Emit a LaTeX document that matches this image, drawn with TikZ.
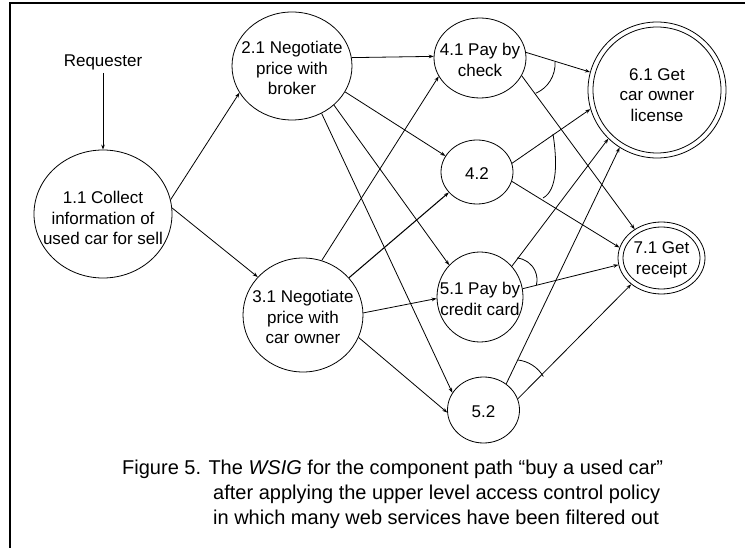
\documentclass[tikz,border=0pt]{standalone}
\usepackage{fontspec}
\setmainfont{Liberation Sans}
\usetikzlibrary{shapes.geometric,arrows.meta}

\begin{document}
\begin{tikzpicture}[x=1pt,y=-1pt,
  proc/.style={ellipse,draw,line width=0.8pt,inner sep=0pt},
  txt/.style={font=\fontsize{17}{20.5}\selectfont,align=center,inner sep=0pt,yshift=-2pt},
  arr/.style={line width=0.8pt,-{Stealth[length=5pt,width=3.6pt]}},
  andarc/.style={line width=0.8pt},
  captxt/.style={font=\fontsize{20}{25}\selectfont,anchor=base west,inner sep=0pt}]
\useasboundingbox (0,0) rectangle (745,548);

% frame
\draw[line width=1.4pt] (10,548) -- (10,3) -- (745,3);

% requester
\node[txt,inner sep=3pt,yshift=2pt] (req) at (103,62) {Requester};

% processes
\node[proc,minimum width=138pt,minimum height=128pt,
  label={[txt,yshift=-2pt]center:{1.1 Collect\\information of\\used car for sell}}] (n11) at (103,214) {};
\node[proc,minimum width=120pt,minimum height=108pt,
  label={[txt]center:{2.1 Negotiate\\price with\\broker}}] (n21) at (292,66) {};
\node[proc,minimum width=120pt,minimum height=114pt,
  label={[txt]center:{3.1 Negotiate\\price with\\car owner}}] (n31) at (303,315) {};
\node[proc,minimum width=92pt,minimum height=80pt,
  label={[txt]center:{4.1 Pay by\\check}}] (n41) at (480,58) {};
\node[proc,minimum width=72pt,minimum height=64pt,
  label={[txt]center:{4.2}}] (n42) at (477,172) {};
\node[proc,minimum width=86pt,minimum height=90pt,
  label={[txt]center:{5.1 Pay by\\credit card}}] (n51) at (480,297) {};
\node[proc,minimum width=72pt,minimum height=66pt,
  label={[txt]center:{5.2}}] (n52) at (483.5,410) {};
\node[proc,minimum width=138pt,minimum height=136pt,
  label={[txt,yshift=-3pt]center:{6.1 Get\\car owner\\license}}] (n61) at (657,90) {};
\node[proc,minimum width=87pt,minimum height=72pt,
  label={[txt]center:{7.1 Get\\receipt}}] (n71) at (661.5,258) {};

% inner rings of the goal nodes
\draw[line width=0.8pt] (n61.center) ellipse [x radius=64, y radius=63];
\draw[line width=0.8pt] (n71.center) ellipse [x radius=38.5, y radius=31];

% connectors
\draw[arr] (req) -- (n11.90);
\draw[arr] (n11.12) -- (n21.207);
\draw[arr] (n11.5) -- (n31.140);
\draw[arr] (n21.8.5) -- (n41.178.7);
\draw[arr] (n21.-26.6) -- (n42.153.4);
\draw[arr] (n21.-43.6) -- (n51.134);
\draw[arr] (n21.-58.5) -- (n52.151.6);
\draw[arr] (n31.71.6) -- (n41.204);
\draw[arr,line width=1.05pt] (n31.39.2) -- (n42.216.3);
\draw[arr] (n31.2) -- (n51.182.7);
\draw[arr] (n31.-22) -- (n52.184.8);
\draw[arr] (n41.7.6) -- (n61.165.6);
\draw[arr] (n41.-23) -- (n71.133.6);
\draw[arr] (n42.14) -- (n61.196.9);
\draw[arr] (n42.-15.5) -- (n71.166);
\draw[arr] (n51.44) -- (n61.225.6);
\draw[arr] (n51.11.6) -- (n71.189.6);
\draw[arr] (n52.49) -- (n61.237);
\draw[arr] (n52.18) -- (n71.221);

% AND arcs
\draw[andarc] (555,62) arc[start angle=-3.4,end angle=66.8,radius=32];
\draw[andarc] (553,134) .. controls (557,160) and (558,190) .. (543,198);
\draw[andarc] (517,258) arc[start angle=-84.8,end angle=13.4,radius=22];
\draw[andarc] (518,360) arc[start angle=-83.3,end angle=-30.4,radius=34];

% caption
\node[captxt] (c1) at (122,474) {Figure 5. The \textit{WSIG} for the component path “buy a used car”};
\node[captxt] (c2) at (213,499) {after applying the upper level access control policy};
\node[captxt] (c3) at (213,524) {in which many web services have been filtered out};
\end{tikzpicture}
\end{document}
